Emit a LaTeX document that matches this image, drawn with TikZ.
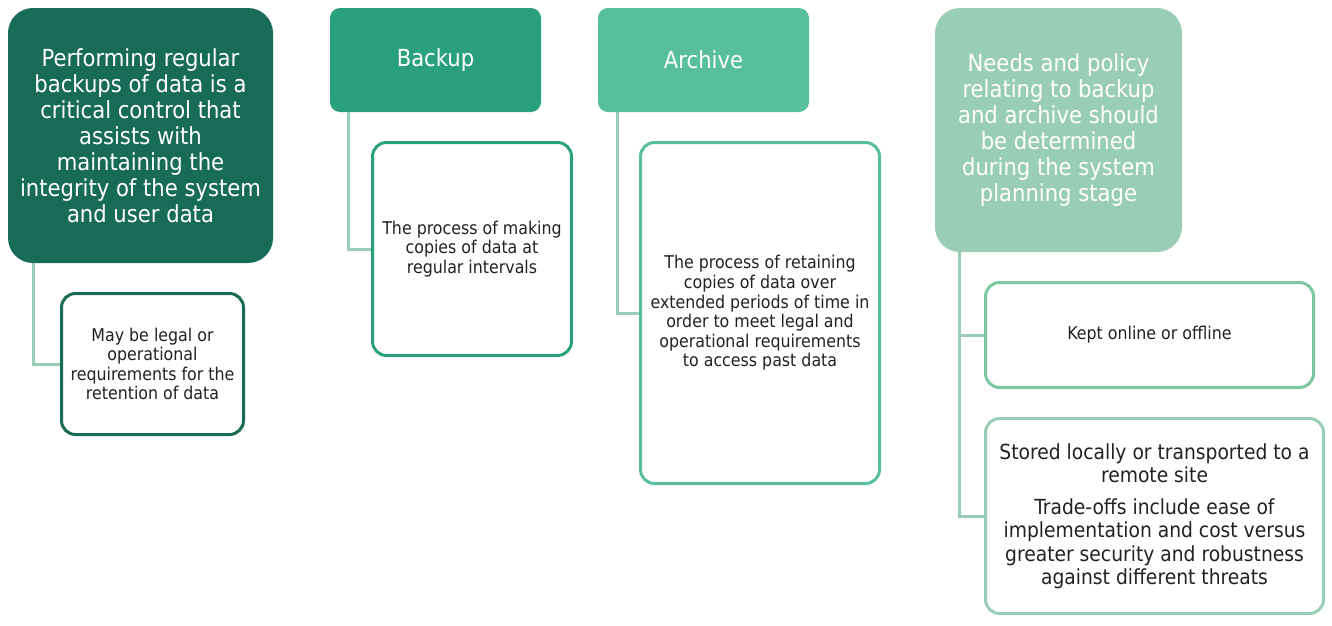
\documentclass[tikz,border=0pt]{standalone}
\usepackage{fontspec}
\setmainfont{DejaVu Sans Condensed}
\definecolor{mydarkgreen}{RGB}{23,107,87}
\definecolor{mymidgreen}{RGB}{43,160,124}
\definecolor{mygreen}{RGB}{87,192,154}
\definecolor{mypalegreen}{RGB}{154,205,181}
\definecolor{myonline}{RGB}{123,200,160}
\definecolor{mytext}{RGB}{34,34,34}
\begin{document}
\begin{tikzpicture}[x=1pt,y=-1pt]
	\tikzstyle{myhead}=[text=white,align=center,inner sep=0pt,font=\fontsize{23.5}{26}\selectfont]
	\tikzstyle{mybox}=[draw,line width=3pt,fill=white,rounded corners=14pt,align=center,inner sep=0pt,text=mytext,font=\fontsize{17.6}{19.6}\selectfont]
	\tikzstyle{myline}=[line width=3pt,draw=mypalegreen]

	\useasboundingbox (0,0) rectangle (1332,625);

		\node[myhead,fill=mydarkgreen,minimum width=265pt,minimum height=255pt,rounded corners=25pt] (perform) at (140.5,135.5) {Performing regular\\backups of data is a\\critical control that\\assists with\\maintaining the\\integrity of the system\\and user data};
		\node[myhead,fill=mymidgreen,minimum width=211pt,minimum height=104pt,rounded corners=10pt] (backup) at (435.5,60) {Backup};
		\node[myhead,fill=mygreen,minimum width=211pt,minimum height=104pt,rounded corners=10pt] (archive) at (703.5,60) {Archive};
		\node[myhead,fill=mypalegreen,minimum width=247pt,minimum height=244pt,rounded corners=25pt] (needs) at (1058.5,130) {Needs and policy\\relating to backup\\and archive should\\be determined\\during the system\\planning stage};

		\node[mybox,draw=mydarkgreen,minimum width=182pt,minimum height=141pt] (retain) at (152.5,364) {May be legal or\\operational\\requirements for the\\retention of data};
		\node[mybox,draw=mymidgreen,minimum width=199pt,minimum height=213pt] (backupdef) at (472,249) {The process of making\\copies of data at\\regular intervals};
		\node[mybox,draw=mygreen,minimum width=239pt,minimum height=341pt] (archivedef) at (760,313) {The process of retaining\\copies of data over\\extended periods of time in\\order to meet legal and\\operational requirements\\to access past data};
		\node[mybox,draw=myonline,minimum width=328pt,minimum height=105pt] (online) at (1149.5,335) {Kept online or offline};
		\node[mybox,draw=mypalegreen,minimum width=338pt,minimum height=195pt,font=\fontsize{20.8}{23.5}\selectfont] (stored) at (1154.5,516) {Stored locally or transported to a\\remote site\\[8pt]Trade-offs include ease of\\implementation and cost versus\\greater security and robustness\\against different threats};

		\draw[myline] ([xshift=26pt]perform.south west) |- (retain.west);
		\draw[myline] ([xshift=19pt]backup.south west) |- (backupdef.west);
		\draw[myline] ([xshift=20pt]archive.south west) |- (archivedef.west);
		\draw[myline] ([xshift=25pt]needs.south west) |- (online.west);
		\draw[myline] ([xshift=25pt]needs.south west) |- (stored.west);
	\end{tikzpicture}
\end{document}
